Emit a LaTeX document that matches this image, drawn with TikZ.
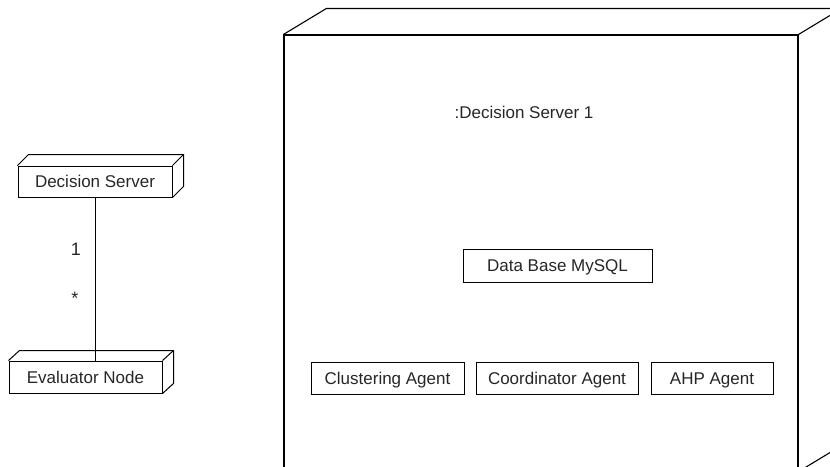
\documentclass[tikz,border=0pt]{standalone}
\usepackage{fontspec}
\setmainfont{Liberation Sans}
\tikzset{
  every node/.style={font=\fontsize{17}{20}\selectfont, inner sep=0pt, text=black!85},
  boxnode/.style={draw=black, line width=1pt, minimum width=#1, text height=12.2pt, text depth=0pt},
  edge line/.style={line width=1pt, line join=miter},
  mult/.style={font=\fontsize{18}{21}\selectfont},
}
\newcommand\cubeextra[3]{%
  \draw[edge line] (#1.north west) -- ++(#2,-#3) -- ([shift={(#2,-#3)}]#1.north east)
     -- ([shift={(#2,-#3)}]#1.south east) -- (#1.south east);
  \draw[edge line] (#1.north east) -- ++(#2,-#3);
}
\begin{document}
\begin{tikzpicture}[x=1pt,y=-1pt]
\useasboundingbox (0,0) rectangle (830,466);
\clip (0,0) rectangle (830,466);
% big server node
\node[draw, line width=1.1pt, minimum width=514pt, minimum height=436pt] (srv) at (541,253) {};
\draw[line width=1.1pt, line join=miter] (srv.north west) -- ++(43,-26) -- ([shift={(43,-26)}]srv.north east)
   -- ([shift={(43,-26)}]srv.south east) -- (srv.south east);
\draw[line width=1.1pt] (srv.north east) -- ++(43,-26);
\node[text height=12.2pt, text depth=0pt] (title) at (524,112.5) {:Decision Server 1};
\node[boxnode=189pt, minimum height=33pt] (db) at (557.5,265.5) {Data Base MySQL};
\node[boxnode=153pt, minimum height=32pt] (cl) at (387.5,378) {Clustering Agent};
\node[boxnode=162pt, minimum height=32pt] (co) at (557,378) {Coordinator Agent};
\node[boxnode=122pt, minimum height=32pt] (ahp) at (712,378) {AHP Agent};
% left side
\node[boxnode=154pt, minimum height=31pt] (ds) at (95,181.5) {Decision Server};
\cubeextra{ds}{11}{11}
\node[boxnode=153pt, minimum height=32pt] (ev) at (85.5,377) {Evaluator Node};
\cubeextra{ev}{11}{10}
\draw[line width=1pt] (ds.south) -- (ds.south |- ev.north);
\node[mult] (m1) at (76,249) {1};
\node[mult] (m2) at (75,298) {*};
\end{tikzpicture}
\end{document}
